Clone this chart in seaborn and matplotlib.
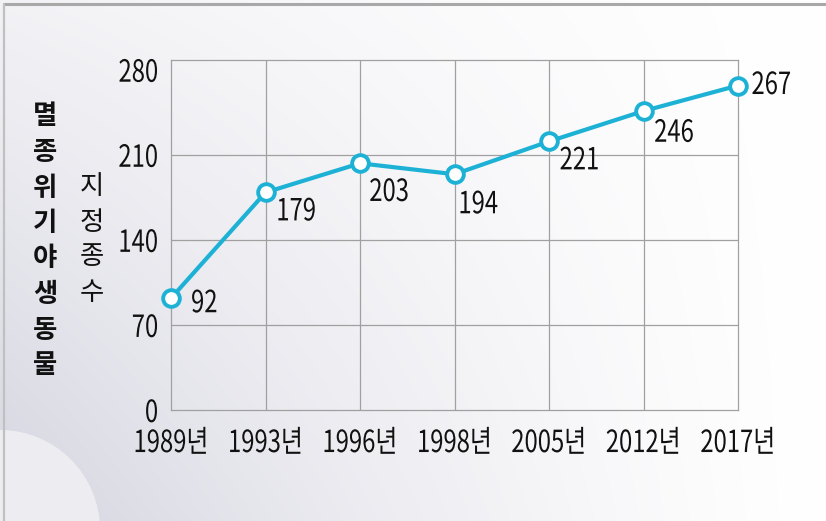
import numpy as np
import pandas as pd
import matplotlib
matplotlib.use("Agg")
import matplotlib.pyplot as plt
from matplotlib.patches import Circle
from matplotlib.lines import Line2D
from matplotlib.patheffects import AbstractPathEffect
from matplotlib.transforms import Affine2D
import seaborn as sns

# Data
years = ["1989년", "1993년", "1996년", "1998년", "2005년", "2012년", "2017년"]
species = [92, 179, 203, 194, 221, 246, 267]
y_ticks = [0, 70, 140, 210, 280]
title_outer = "멸종위기야생동물"
title_inner = "지정종수"

# label offsets (points) relative to each marker
label_dx = [24, 22, 21, 17, 22, 22, 24]
label_dy = [-4, -14, -21, -22, -14, -16, 0]


class Squeeze(AbstractPathEffect):
    """Draw text narrower by scaling glyph paths horizontally about a pivot."""

    def __init__(self, sx=0.8, pivot="center"):
        super().__init__()
        self.sx = sx
        self.pivot = pivot

    def draw_path(self, renderer, gc, tpath, affine, rgbFace=None):
        bb = tpath.get_extents(affine)
        px = {"left": bb.x0, "right": bb.x1}.get(self.pivot, 0.5 * (bb.x0 + bb.x1))
        squeeze = Affine2D().translate(-px, 0).scale(self.sx, 1).translate(px, 0)
        renderer.draw_path(gc, tpath, affine + squeeze, rgbFace)


sns.set_theme(style="white")
plt.rcParams["font.family"] = ["Noto Sans CJK KR", "DejaVu Sans"]

W, H = 826, 521
fig = plt.figure(figsize=(W / 100, H / 100), dpi=100)

# soft lavender-to-white backdrop
bg = fig.add_axes([0, 0, 1, 1], zorder=-10)
u = np.linspace(0, 1, W)[None, :]
v = np.linspace(0, 1, H)[:, None]
w = np.clip((1 - u) ** 1.3 * (0.3 + 0.7 * v), 0, 1)
lav = np.array([0.835, 0.835, 0.880])
img = 1 - w[..., None] * (1 - lav)
bg.imshow(img, extent=[0, W, H, 0], aspect="auto", interpolation="bilinear")
bg.add_patch(Circle((0, 530), 100, color="#ededf1", lw=0))
bg.add_line(Line2D([4, W], [4, 4], color="#a8a8a8", lw=2.2))
bg.add_line(Line2D([4, 4], [4, H], color="#c0c0c0", lw=1.6))
bg.set_xlim(0, W)
bg.set_ylim(H, 0)
bg.axis("off")

ax = fig.add_axes([171 / W, 1 - 410 / H, (738 - 171) / W, (410 - 60) / H])
ax.patch.set_alpha(0)

df = pd.DataFrame({"year": years, "count": species})
color = "#1db2d5"
sns.lineplot(data=df, x="year", y="count", sort=False, ax=ax, color=color,
             linewidth=3, marker="o", markersize=12, markerfacecolor="white",
             markeredgecolor=color, markeredgewidth=2.8, zorder=5, clip_on=False)

ax.set_xlim(0, len(years) - 1)
ax.set_ylim(0, 288)
ax.set_yticks(y_ticks)
ax.set_yticklabels([str(t) for t in y_ticks])
ax.set_xticks(range(len(years)))
ax.set_xticklabels(years)
ax.tick_params(axis="both", length=0, labelsize=22, colors="#111111")
ax.tick_params(axis="y", pad=9)
ax.tick_params(axis="x", pad=13)
ax.set_xlabel("")
ax.set_ylabel("")
for lbl in ax.get_yticklabels():
    lbl.set_path_effects([Squeeze(0.78, "right")])
for lbl in ax.get_xticklabels():
    lbl.set_path_effects([Squeeze(0.78, "center")])

for t in [70, 140, 210]:
    ax.axhline(t, color="#a0a0a0", lw=0.9, zorder=1)
for i in range(1, len(years) - 1):
    ax.axvline(i, color="#a0a0a0", lw=0.9, zorder=1)
for s in ax.spines.values():
    s.set_color("#a0a0a0")
    s.set_linewidth(0.9)

for i, val in enumerate(species):
    t = ax.annotate(str(val), (i, val), xytext=(label_dx[i], label_dy[i]),
                    textcoords="offset points", ha="center", va="center",
                    fontsize=22, color="#111111", zorder=6)
    t.set_path_effects([Squeeze(0.78, "center")])

# vertical axis titles, one character per line
for k, ch in enumerate(title_outer):
    fig.text(45 / W, 1 - (117 + 35.5 * k) / H, ch, ha="center", va="center",
             fontsize=19, fontweight="bold", color="#111111",
             family=["Noto Sans CJK KR", "DejaVu Sans"])
for k, ch in enumerate(title_inner):
    fig.text(92 / W, 1 - (187 + 35 * k) / H, ch, ha="center", va="center",
             fontsize=19, color="#111111",
             family=["Noto Sans CJK KR", "DejaVu Sans"])

fig.savefig("out.png", dpi=100)
